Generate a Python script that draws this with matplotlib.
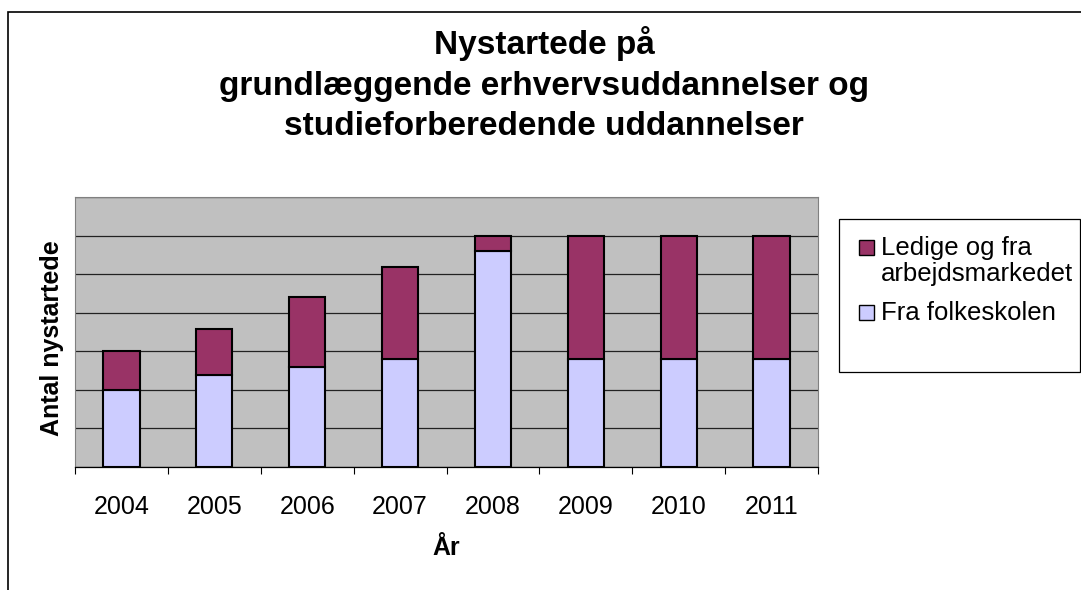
import matplotlib.pyplot as plt
import numpy as np
from matplotlib.patches import Rectangle

plt.rcParams["font.family"] = ["Liberation Sans", "DejaVu Sans"]

# data (units = gridline steps, axis has no value labels)
years = ["2004", "2005", "2006", "2007", "2008", "2009", "2010", "2011"]
folkeskolen = [2.0, 2.38, 2.59, 2.79, 5.6, 2.79, 2.79, 2.79]
ledige = [1.0, 1.2, 1.83, 2.39, 0.4, 3.21, 3.21, 3.21]
labels = ["Ledige og fra\narbejdsmarkedet", "Fra folkeskolen"]
colors = ["#993366", "#ccccff"]

W, H = 1081, 590
fig = plt.figure(figsize=(W / 100, H / 100), dpi=100)

# plot area in pixels: x 75..818, y 197..467
ax = fig.add_axes([75 / W, 1 - 467 / H, 743 / W, 270 / H])
ax.set_facecolor("#c0c0c0")

x = np.arange(len(years))
ax.bar(x, folkeskolen, width=0.39, color=colors[1], edgecolor="black",
       linewidth=1.5, zorder=3)
ax.bar(x, ledige, width=0.39, bottom=folkeskolen, color=colors[0],
       edgecolor="black", linewidth=1.5, zorder=3)

ax.set_xlim(-0.5, len(years) - 0.5)
ax.set_ylim(0, 7)
ax.set_yticks(range(0, 8))
ax.set_yticklabels([])
ax.tick_params(axis="y", length=0)
ax.yaxis.grid(True, color="#222222", linewidth=0.9, zorder=1)

ax.set_xticks(x)
ax.set_xticklabels(years, fontsize=18)
ax.tick_params(axis="x", which="major", length=0, pad=20)
ax.set_xticks(np.arange(len(years) + 1) - 0.5, minor=True)
ax.tick_params(axis="x", which="minor", length=5, width=0.8, color="black",
               direction="out")

for s in ["left", "top", "right"]:
    ax.spines[s].set_color("#808080")
    ax.spines[s].set_linewidth(0.8)
ax.spines["bottom"].set_color("black")
ax.spines["bottom"].set_linewidth(0.9)

# titles and axis labels
fig.text(544 / W, 1 - 26 / H,
         "Nystartede på\ngrundlæggende erhvervsuddannelser og\nstudieforberedende uddannelser",
         ha="center", va="top", fontsize=24, fontweight="bold", linespacing=1.4)
fig.text(52 / W, 1 - 338 / H, "Antal nystartede", rotation=90, ha="center",
         va="center", fontsize=18, fontweight="bold")
fig.text(446 / W, 1 - 548 / H, "År", ha="center", va="center", fontsize=18,
         fontweight="bold")

# legend box, drawn by hand so the square sits on the first text line
fig.patches.append(Rectangle((839 / W, 1 - 372 / H), 241 / W, 153 / H,
                             transform=fig.transFigure, fill=False,
                             edgecolor="black", linewidth=0.9))
for i, (lab, col) in enumerate(zip(labels, colors)):
    base = [255, 320][i]
    fig.patches.append(Rectangle((859 / W, 1 - base / H), 15 / W, 15 / H,
                                 transform=fig.transFigure, facecolor=col,
                                 edgecolor="black", linewidth=1.0))
    lines = lab.split("\n")
    for j, line in enumerate(lines):
        fig.text(881 / W, 1 - (base + 26 * j) / H, line, ha="left",
                 va="baseline", fontsize=18.5)

# outer chart frame (cut off at right and bottom)
fig.patches.append(Rectangle((8 / W, -0.1), 1.2, 1.1 - 12 / H,
                             transform=fig.transFigure, fill=False,
                             edgecolor="black", linewidth=1.2))

fig.savefig("out.png", dpi=100)
